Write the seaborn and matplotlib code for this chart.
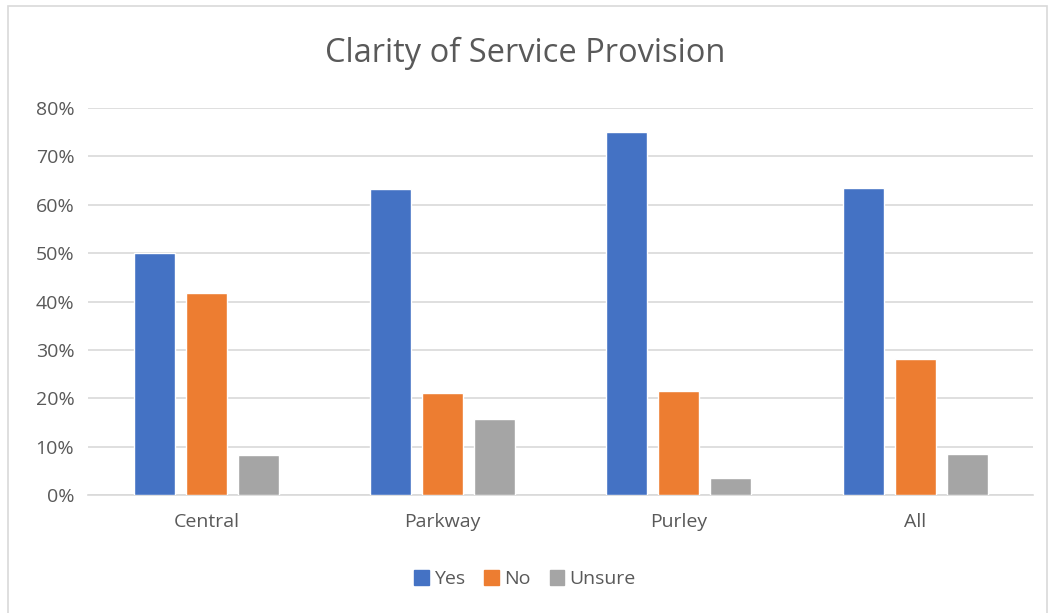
import pandas as pd
import numpy as np
import matplotlib
matplotlib.use('Agg')
import matplotlib.pyplot as plt
import seaborn as sns
from matplotlib.patches import Rectangle
from matplotlib.ticker import PercentFormatter

# datos
areas = ['Central', 'Parkway', 'Purley', 'All']
respuestas = ['Yes', 'No', 'Unsure']
yes_vals = [0.500, 0.632, 0.750, 0.634]
no_vals = [0.417, 0.211, 0.214, 0.282]
unsure_vals = [0.083, 0.158, 0.036, 0.085]

df = pd.DataFrame({'area': areas, 'Yes': yes_vals, 'No': no_vals, 'Unsure': unsure_vals})
df = df.melt(id_vars='area', var_name='respuesta', value_name='valor')

colores = ['#4472C4', '#ED7D31', '#A5A5A5']
texto = '#595959'

sns.set_theme(style='white')
plt.rcParams['font.family'] = ['Open Sans', 'DejaVu Sans']

fig = plt.figure(figsize=(10.5, 6.13), dpi=100)
ax = fig.add_axes([0.084, 0.1925, 0.90, 0.6313])

sns.barplot(data=df, x='area', y='valor', hue='respuesta', hue_order=respuestas,
            order=areas, palette=colores, width=0.66, gap=0.21, saturation=1,
            ax=ax, zorder=3)

ax.set_ylim(0, 0.8)
ax.set_xlim(-0.5, 3.5)
ax.set_yticks(np.arange(0, 0.81, 0.1))
ax.yaxis.set_major_formatter(PercentFormatter(1.0, decimals=0))
ax.grid(axis='y', color='#D9D9D9', linewidth=1.2, zorder=0)
ax.set_axisbelow(True)
for s in ['top', 'right', 'left']:
    ax.spines[s].set_visible(False)
ax.spines['bottom'].set_color('#D9D9D9')
ax.spines['bottom'].set_linewidth(1.2)
ax.tick_params(axis='both', length=0, labelsize=14, colors=texto)
ax.tick_params(axis='x', pad=13)
ax.tick_params(axis='y', pad=10)
ax.set_xlabel('')
ax.set_ylabel('')

ax.legend_.remove()
handles = [Rectangle((0, 0), 1, 1, color=c) for c in colores]
fig.legend(handles, respuestas, loc='center', bbox_to_anchor=(0.5, 0.055), ncol=3,
           frameon=False, fontsize=14, handlelength=0.75, handleheight=0.75,
           handletextpad=0.25, columnspacing=1.0, labelcolor=texto)

fig.text(0.5, 0.913, 'Clarity of Service Provision', ha='center', va='center',
         fontsize=23.5, color=texto)

# borde del area del grafico
fig.patches.append(Rectangle((0.008, -0.01), 0.989, 1.0, transform=fig.transFigure,
                             fill=False, edgecolor='#D9D9D9', linewidth=1.2))

fig.savefig('out.png', dpi=100)
